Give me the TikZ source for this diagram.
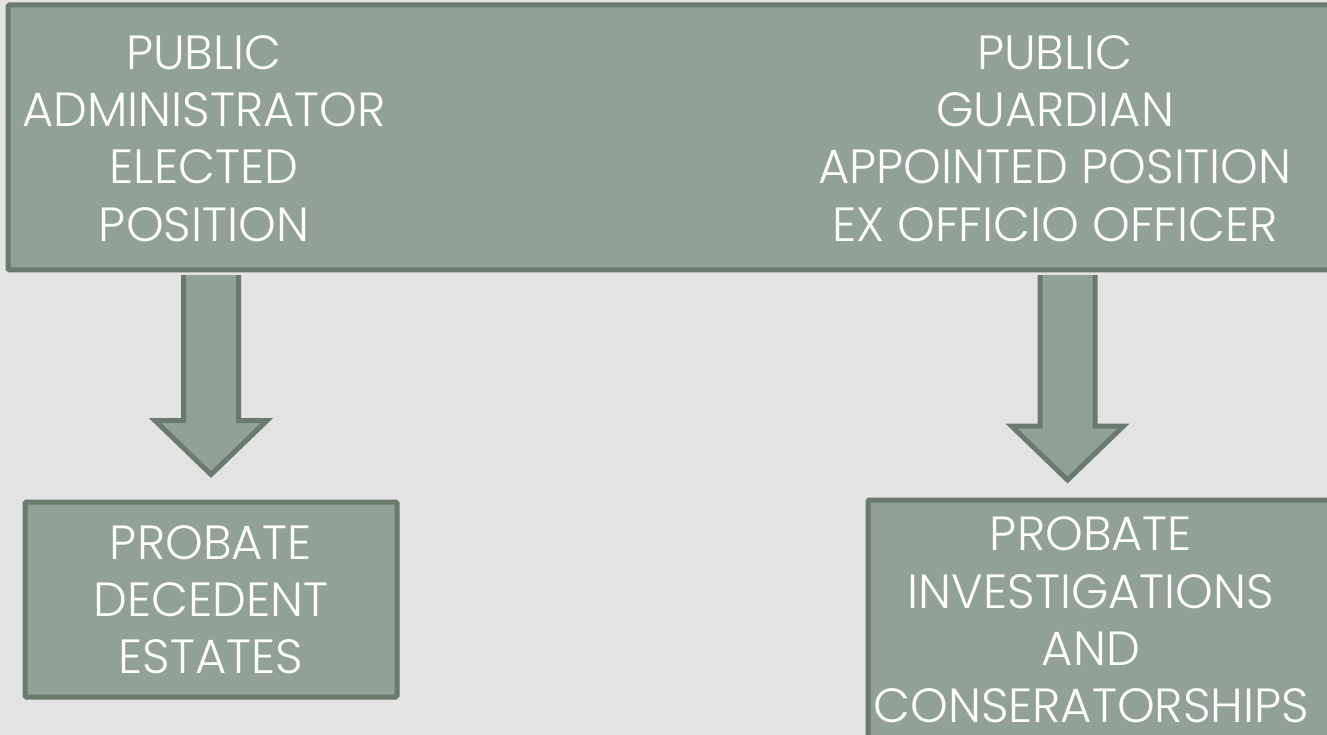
\documentclass[tikz,border=0pt]{standalone}
\usepackage{fontspec}
\setmainfont{Poppins Light}
\usetikzlibrary{calc}

\definecolor{boxfill}{HTML}{91A196}
\definecolor{boxline}{HTML}{6B7A6E}
\definecolor{backdrop}{HTML}{E3E3E3}

% fat arrow: shaft from #1 straight down to the tip #2
\newcommand{\fatdown}[2]{%
  \draw[fatarrow] ($(#1)+(-27.5,0)$) -- ($(#2)+(-27.5,-54)$) -- ($(#2)+(-56,-54)$)
    -- (#2) -- ($(#2)+(56,-54)$) -- ($(#2)+(27.5,-54)$) -- ($(#1)+(27.5,0)$);
}

\begin{document}
\begin{tikzpicture}[x=1pt,y=-1pt,
  box/.style={draw=boxline, fill=boxfill, line width=5pt, rounded corners=1.5pt, inner sep=0pt},
  label/.style={text=white, align=center, inner sep=0pt, font=\fontsize{48}{57.3}\selectfont},
  fatarrow/.style={draw=boxline, fill=boxfill, line width=5pt, line join=miter}]
\useasboundingbox (0,0) rectangle (1327,735);
\fill[backdrop] (0,0) rectangle (1327,735);
\clip (0,0) rectangle (1327,735);

% top row: both offices in one long box
\node[box, minimum width=1340, minimum height=265] (top) at (678,137.5) {};
\node[label] (admin) at (204,138.5) {PUBLIC\\ADMINISTRATOR\\ELECTED\\POSITION};
\node[label] (guard) at (1055,138.5) {PUBLIC\\GUARDIAN\\APPOINTED POSITION\\EX OFFICIO OFFICER};

% bottom row
\node[box, minimum width=372, minimum height=195] (dec) at (211,599.5) {};
\node[label] (decest) at (dec) {PROBATE\\DECEDENT\\ESTATES};
\node[box, minimum width=480, minimum height=245] (invbox) at (1108,622.5) {};
\node[label] (inv) at (1091,620) {PROBATE\\INVESTIGATIONS\\AND\\CONSERATORSHIPS};

% arrows
\coordinate (tipL) at ($(dec.north)+(0,-25)$);
\coordinate (tipR) at (1067.5,480);
\fatdown{$(top.south -| tipL)+(0,2.5)$}{tipL}
\fatdown{$(top.south -| tipR)+(0,2.5)$}{tipR}
\end{tikzpicture}
\end{document}
